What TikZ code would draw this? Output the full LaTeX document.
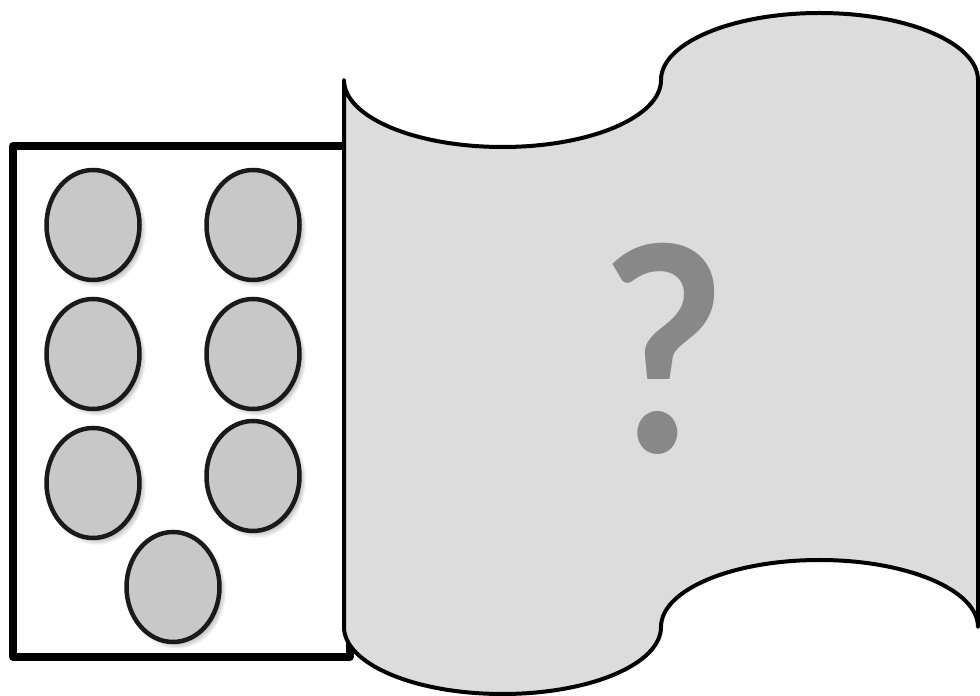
\documentclass[tikz,border=0pt]{standalone}
\usepackage{fontspec}
\newfontfamily\qfont{Lato}[UprightFont=*-Bold]
\usetikzlibrary{shadows,fadings,shapes.geometric}
\definecolor{bannerfill}{HTML}{DCDCDC}
\definecolor{dotfill}{HTML}{C8C8C8}
\definecolor{dotline}{HTML}{1A1A1A}
\definecolor{qmark}{HTML}{888888}
\tikzset{
  frame/.style={line width=7.5pt, line join=round, draw=black},
  banner/.style={line width=4pt, line join=round, line cap=round, draw=black, fill=bannerfill},
  blob/.style={ellipse, draw=dotline, fill=dotfill, line width=4.5pt,
    minimum width=93pt, minimum height=110pt, inner sep=0pt,
    circular drop shadow={shadow scale=1.06, shadow xshift=3.5pt, shadow yshift=-3.5pt, opacity=0.6}}
}
\begin{document}
\begin{tikzpicture}[x=1pt,y=1pt]
\useasboundingbox (0,0) rectangle (980,696);
% box behind
\draw[frame] (13,550) rectangle (350,39);
% blobs
\node[blob] (b1) at (93,471) {};
\node[blob] (b2) at (253,471) {};
\node[blob] (b3) at (93,342) {};
\node[blob] (b4) at (253,342) {};
\node[blob] (b5) at (93,213) {};
\node[blob] (b6) at (253,220) {};
\node[blob] (b7) at (173,109) {};
% banner
\draw[banner] (344,616)
  arc[start angle=180, end angle=360, x radius=158.5, y radius=67]
  arc[start angle=180, end angle=0, x radius=158.5, y radius=67]
  -- (978,69)
  arc[start angle=0, end angle=180, x radius=158.5, y radius=67]
  arc[start angle=0, end angle=-180, x radius=158.5, y radius=67]
  -- cycle;
\node[text=qmark, anchor=base, inner sep=0pt, font=\qfont\fontsize{278}{278}\selectfont, xscale=0.95, yscale=1.03] (q) at (664,243) {?};
\end{tikzpicture}
\end{document}
